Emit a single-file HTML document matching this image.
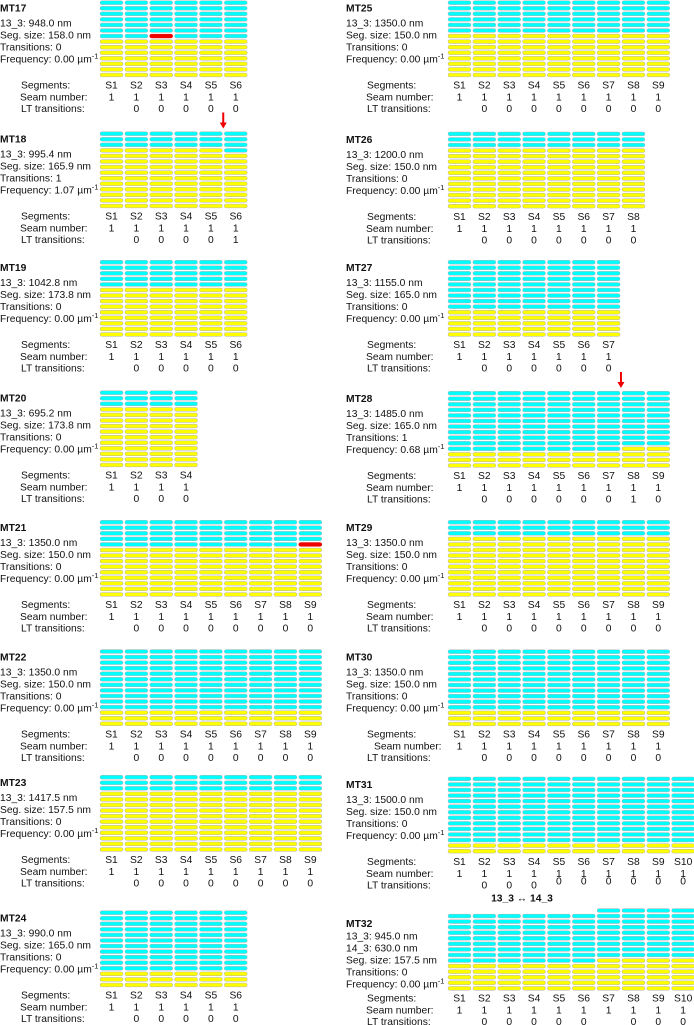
<!DOCTYPE html>
<html><head><meta charset="utf-8"><style>
body{margin:0;background:#fff;}
svg{display:block;font-family:"Liberation Sans",Arial,sans-serif;font-size:10.3px;fill:#111;}
</style></head><body>
<svg id="fig" width="694" height="1025" viewBox="0 0 694 1025" xmlns="http://www.w3.org/2000/svg"></svg>
<script>
const panelNames=["MT17","MT18","MT19","MT20","MT21","MT22","MT23","MT24","MT25","MT26","MT27","MT28","MT29","MT30","MT31","MT32"];
const panelTops=[0.5,131.5,260,390.5,520,649.3,775,910.5,0.5,131.7,260,391,520,649.5,776.7,908.3];
const panelSide=[0,0,0,0,0,0,0,0,1,1,1,1,1,1,1,1];
const lengths13=["948.0","995.4","1042.8","695.2","1350.0","1350.0","1417.5","990.0","1350.0","1200.0","1155.0","1485.0","1350.0","1350.0","1500.0","945.0"];
const segSizes=["158.0","165.9","173.8","173.8","150.0","150.0","157.5","165.0","150.0","150.0","165.0","165.0","150.0","150.0","150.0","157.5"];
const transitions=[0,1,0,0,0,0,0,0,0,0,0,1,0,0,0,0];
const freqs=["0.00","1.07","0.00","0.00","0.00","0.00","0.00","0.00","0.00","0.00","0.00","0.68","0.00","0.00","0.00","0.00"];
const cyanCounts=[
 [7,7,7,7,7,7],
 [3,3,3,3,3,4],
 [5,5,5,5,5,5],
 [3,3,3,3],
 [5,5,5,5,5,5,5,5,5],
 [11,11,11,11,11,11,11,11,11],
 [3,3,3,3,3,3,3,3,3],
 [11,11,11,11,11,11],
 [6,6,6,6,6,6,6,6,6],
 [3,3,3,3,3,3,3,3],
 [9,9,9,9,9,9,9],
 [11,11,11,11,11,11,11,10,10],
 [3,3,3,3,3,3,3,3,3],
 [11,11,11,11,11,11,11,11,11],
 [12,12,12,12,12,12,12,12,12,12],
 [9,9,9,9,9,9,9,9,9,9]
];
const rowCounts32=[14,14,14,14,14,14,15,15,15,15];
const ltValues=[
 [null,0,0,0,0,0],
 [null,0,0,0,0,1],
 [null,0,0,0,0,0],
 [null,0,0,0],
 [null,0,0,0,0,0,0,0,0],
 [null,0,0,0,0,0,0,0,0],
 [null,0,0,0,0,0,0,0,0],
 [null,0,0,0,0,0],
 [null,0,0,0,0,0,0,0,0],
 [null,0,0,0,0,0,0,0],
 [null,0,0,0,0,0,0],
 [null,0,0,0,0,0,0,1,0],
 [null,0,0,0,0,0,0,0,0],
 [null,0,0,0,0,0,0,0,0],
 [null,0,0,0,0,0,0,0,0,0],
 [null,0,0,0,0,0,null,0,0,0]
];
const redMarks=[{p:0,col:2,row:6},{p:4,col:8,row:4}];
const arrows=[{p:1,boundary:5},{p:11,boundary:7}];

const NS="http://www.w3.org/2000/svg";
const svg=document.getElementById('fig');
const P=5.56, BH=3.8, BW=23, CP=24.85;
function mk(tag,attrs,parent){const e=document.createElementNS(NS,tag);for(const k in attrs)e.setAttribute(k,attrs[k]);(parent||svg).appendChild(e);return e;}
function txt(x,y,s,parent,anchor,bold){const t=mk('text',{x:x,y:y+3.7,'text-anchor':anchor||'start'},parent);if(bold)t.setAttribute('font-weight','bold');t.textContent=s;return t;}

panelNames.forEach((name,pi)=>{
  const g=mk('g',{});
  
  
  const x0=panelSide[pi]?346:0, gx=panelSide[pi]?448:100;
  const T=panelTops[pi];
  const is32=name==="MT32";
  const ncol=cyanCounts[pi].length;
  const bottom=T+(is32?14:13)*P;
  const tt=txt(x0,is32?923.3:T+7.5,name,g,'start',true);
  
  
  const lines=["13_3: "+lengths13[pi]+" nm"];
  if(is32)lines.push("14_3: 630.0 nm");
  lines.push("Seg. size: "+segSizes[pi]+" nm","Transitions: "+transitions[pi]);
  const ly0=is32?935.7:T+22.5;
  lines.forEach((s,i)=>{const t=txt(x0,ly0+12*i,s,g);});
  const ft=txt(x0,ly0+12*lines.length,"Frequency: "+freqs[pi]+" µm",g);
  
  
  const sup=mk('tspan',{dy:-4,'font-size':7.5},ft);sup.textContent="-1";
  for(let c=0;c<ncol;c++){
    const rows=is32?rowCounts32[c]:14;
    const top=bottom-(rows-1)*P;
    const cx=gx+c*CP;
    for(let r=0;r<rows;r++){
      const isRed=redMarks.some(m=>m.p===pi&&m.col===c&&m.row===r);
      const cyan=r<cyanCounts[pi][c];
      const b=mk('rect',{x:cx,y:top+r*P+0.3,width:BW,height:BH,rx:1.9,ry:1.9,
        fill:isRed?'#ee0000':(cyan?'#00ffff':'#ffff00'),stroke:isRed?'#ee0000':'#b0b0b0','stroke-width':0.5},g);
      
      
    }
  }
  const sy=is32?998:T+84.5;
  const l1=txt(x0+21,sy,"Segments:",g);
  const l2=txt(x0+(name==="MT30"?28:20),sy+12,"Seam number:",g);
  const l3=txt(x0+21,sy+23.5,"LT transitions:",g);
  for(let c=0;c<ncol;c++){
    const cx=gx+c*CP+BW/2;
    const a=txt(cx,sy,"S"+(c+1),g,'middle');
    const b=txt(cx,sy+12,"1",g,'middle');
    const v=ltValues[pi][c];
    if(v!==null&&v!==undefined){
      const raise=(name==="MT31"&&c>=4)?-4:0;
      const d=txt(cx,sy+23.5+raise,String(v),g,'middle');
    }
  }
});
arrows.forEach(a=>{
  const pi=a.p;
  const gx=panelSide[pi]?448:100;
  const x=gx+a.boundary*CP-1;
  const T=panelTops[pi];
  const g=mk('g',{});
  
  
  mk('line',{x1:x,y1:T-19,x2:x,y2:T-8,stroke:'#ee0000','stroke-width':2},g);
  mk('path',{d:`M${x-3.5},${T-9} L${x+3.5},${T-9} L${x},${T-3} Z`,fill:'#ee0000'},g);
});
const lab=mk('text',{x:522,y:901.5,'text-anchor':'middle','font-weight':'bold'});


lab.textContent="13_3  \u2194  14_3";
</script>
</body></html>
